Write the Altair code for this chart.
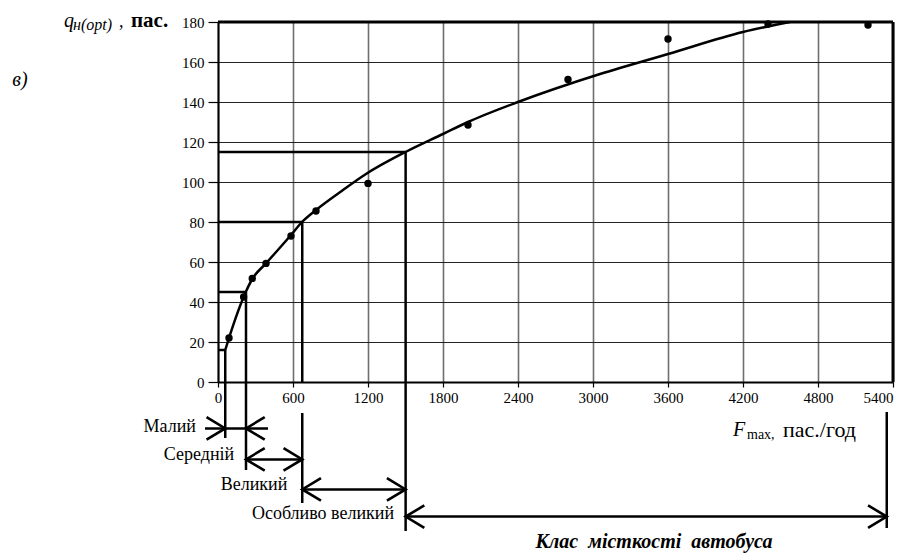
import altair as alt
import pandas as pd

SERIF = "Liberation Serif"

# observed points (F_max, q)
pt_x = [88, 205, 274, 384, 584, 784, 1200, 2000, 2800, 3600, 4400, 5200]
pt_q = [22, 42.5, 51.8, 59.3, 73, 85.5, 99.3, 128.5, 151.3, 171.5, 179, 178.5]

# fitted curve
curve_x = [58, 88, 222, 274, 384, 584, 672, 784, 1000, 1184, 1500, 1800, 2000, 2400, 3056, 3600, 4200, 4576]
curve_q = [16, 22, 45, 51.5, 59.3, 73.5, 80, 86, 96, 104, 115, 124, 130, 140, 154, 164, 175, 180]

x_ticks = [0, 600, 1200, 1800, 2400, 3000, 3600, 4200, 4800, 5400]
y_ticks = [0, 20, 40, 60, 80, 100, 120, 140, 160, 180]

# class boundaries: F value and the q level reached on the curve
bound_x = [58, 224, 674, 1501]
bound_q = [16, 45, 80, 115]
# vertical boundary segments (x, top, bottom)
vx = [58, 224, 674, 674, 1501, 5350]
v_top = [16, 45, 80, -15.5, 115, -15]
v_bot = [-28, -44, 0, -60.5, -74.5, -73]

# arrow rows of capacity classes
row_q = [-23.2, -38.7, -53.7, -67.3]
row_x1 = [-104, 224, 674, 1501]
row_x2 = [400, 674, 1501, 5350]
head_r_x = [58, 674, 1501, 5350]
head_l_x = [224, 224, 674, 1501]

xs = alt.Scale(domain=[0, 5400], nice=False, zero=False)
ys = alt.Scale(domain=[0, 180], nice=False, zero=False)
x_axis = alt.Axis(values=x_ticks, title="", format="d", grid=True,
                  gridColor="#6e6e6e", gridWidth=1.6, tickColor="black",
                  tickSize=5, tickWidth=1.2, domainColor="black", domainWidth=2,
                  labelFont=SERIF, labelFontSize=15, labelColor="black",
                  labelPadding=3, labelFlush=False,
                  labelAlign={"expr": "datum.value == 5400 ? 'right' : 'center'"})
y_axis = alt.Axis(values=y_ticks, title="", format="d", grid=True,
                  gridColor="#222222", gridWidth=1.2, tickColor="black",
                  tickSize=10, tickWidth=1.2, domainColor="black", domainWidth=2,
                  labelFont=SERIF, labelFontSize=15, labelColor="black",
                  labelPadding=4)

X = alt.X("x:Q", scale=xs, axis=x_axis)
Y = alt.Y("q:Q", scale=ys, axis=y_axis)

pts = pd.DataFrame({"x": pt_x, "q": pt_q})
curve = pd.DataFrame({"x": curve_x, "q": curve_q})

hlines = pd.DataFrame({"x": [0] * len(bound_x), "x2": bound_x, "q": bound_q})
vlines = pd.DataFrame({"x": vx, "q": v_top, "q2": v_bot})
rows = pd.DataFrame({"x": row_x1, "x2": row_x2, "q": row_q})
heads_r = pd.DataFrame({"x": head_r_x, "q": row_q})
heads_l = pd.DataFrame({"x": head_l_x, "q": row_q})
frame_top = pd.DataFrame({"x": [0], "x2": [5400], "q": [180]})
frame_right = pd.DataFrame({"x": [5400], "q": [0], "q2": [180]})

base_grid = alt.Chart(pts).mark_point(opacity=0).encode(x=X, y=Y)

top_rule = alt.Chart(frame_top).mark_rule(color="black", strokeWidth=3).encode(
    x=X, x2="x2:Q", y=Y)
right_rule = alt.Chart(frame_right).mark_rule(color="black", strokeWidth=3).encode(
    x=X, y=Y, y2="q2:Q")

h_layer = alt.Chart(hlines).mark_rule(color="black", strokeWidth=2.5).encode(
    x=X, x2="x2:Q", y=Y)
v_layer = alt.Chart(vlines).mark_rule(color="black", strokeWidth=2.5).encode(
    x=X, y=Y, y2="q2:Q")
row_layer = alt.Chart(rows).mark_rule(color="black", strokeWidth=2.5).encode(
    x=X, x2="x2:Q", y=Y)

RIGHT = "M-1,-0.6L0,0L-1,0.6"
LEFT = "M1,-0.6L0,0L1,0.6"
hr_layer = alt.Chart(heads_r).mark_point(shape=RIGHT, filled=False, size=1400,
                                         strokeWidth=2.6, color="black", opacity=1).encode(x=X, y=Y)
hl_layer = alt.Chart(heads_l).mark_point(shape=LEFT, filled=False, size=1400,
                                         strokeWidth=2.6, color="black", opacity=1).encode(x=X, y=Y)

curve_layer = alt.Chart(curve).mark_line(color="black", strokeWidth=2.5,
                                         interpolate="monotone").encode(x=X, y=Y)
pt_layer = alt.Chart(pts).mark_circle(color="black", size=55, opacity=1).encode(x=X, y=Y)


def label(txt, x, y, size, style="normal", weight="normal", align="left",
          baseline="alphabetic"):
    return alt.Chart(pd.DataFrame({"t": [txt]})).mark_text(
        font=SERIF, fontSize=size, fontStyle=style, fontWeight=weight,
        align=align, baseline=baseline, color="black").encode(
        text="t:N", x=alt.value(x), y=alt.value(y))


texts = [
    label("в)", -198, 64, 20, style="italic", align="center"),
    label("q", -154, 5, 20, style="italic"),
    label("н(opt)", -145, 8, 16, style="italic"),
    label(",", -99, 5, 18),
    label("пас.", -87, 5, 21, weight="bold"),
    label("F", 515, 414, 20, style="italic"),
    label("max,", 529, 417, 14),
    label("пас./год", 565, 415, 22),
    label("Малий", -22, 405, 18, align="right", baseline="middle"),
    label("Середній", -19, 433, 18, align="center", baseline="middle"),
    label("Великий", 36, 463, 18, align="center", baseline="middle"),
    label("Особливо великий", 105, 492, 18, align="center", baseline="middle"),
    label("Клас\u00a0 місткості\u00a0 автобуса", 436, 526, 20, style="italic",
          weight="bold", align="center"),
]

chart = alt.layer(
    base_grid, h_layer, v_layer, row_layer, hr_layer, hl_layer,
    curve_layer, pt_layer, top_rule, right_rule, *texts
).properties(
    width=675, height=360,
    padding={"left": 210, "top": 14, "right": 7, "bottom": 171},
    autosize=alt.AutoSizeParams(type="none"),
    background="white",
).configure_view(stroke=None)

chart.save("out.html", embed_options={"renderer": "svg", "actions": False})
